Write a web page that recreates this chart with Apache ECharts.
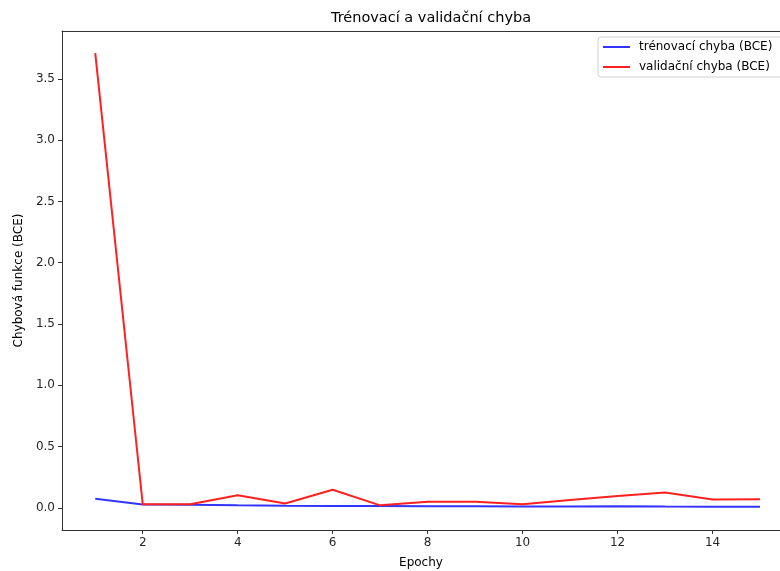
<!DOCTYPE html>
<html>
<head>
<meta charset="utf-8">
<script src="https://cdn.jsdelivr.net/npm/echarts@6/dist/echarts.min.js"></script>
<style>
  html, body { margin: 0; padding: 0; background: #fff; }
  #chart { width: 780px; height: 571px; }
</style>
</head>
<body>
<div id="chart"></div>
<script>
  var epochs = [1, 2, 3, 4, 5, 6, 7, 8, 9, 10, 11, 12, 13, 14, 15];
  var trainLoss = [0.074, 0.028, 0.025, 0.021, 0.018, 0.016, 0.015, 0.014, 0.013, 0.012, 0.012, 0.013, 0.011, 0.010, 0.009];
  var valLoss = [3.71, 0.030, 0.030, 0.104, 0.036, 0.148, 0.021, 0.050, 0.050, 0.030, 0.065, 0.098, 0.126, 0.068, 0.070];
  var xTicks = [2, 4, 6, 8, 10, 12, 14];
  var yTicks = [0, 0.5, 1.0, 1.5, 2.0, 2.5, 3.0, 3.5];

  function pairs(xs, ys) {
    var out = [];
    for (var i = 0; i < xs.length; i++) {
      out.push([xs[i], ys[i]]);
    }
    return out;
  }

  var font = 'DejaVu Sans';
  var spine = '#333';
  var chart = echarts.init(document.getElementById('chart'));
  chart.setOption({
    animation: false,
    title: {
      text: 'Trénovací a validační chyba',
      left: 426,
      textAlign: 'center',
      top: 6,
      textStyle: { fontFamily: font, fontSize: 14.5, fontWeight: 'normal', color: '#000' }
    },
    legend: {
      orient: 'vertical',
      left: 598,
      top: 37,
      icon: 'rect',
      itemWidth: 27,
      itemHeight: 2,
      itemGap: 8,
      padding: [4, 14, 4, 5],
      borderColor: '#d0d0d0',
      borderWidth: 1,
      borderRadius: 3,
      textStyle: { fontFamily: font, fontSize: 12, color: '#000', padding: [0, 0, 0, 4] },
      data: ['trénovací chyba (BCE)', 'validační chyba (BCE)']
    },
    grid: {
      left: 62,
      top: 31,
      right: 0,
      bottom: 41,
      outerBoundsMode: 'none',
      containLabel: false,
      show: false
    },
    xAxis: [
      {
        type: 'value',
        min: 0.3,
        max: 15.42,
        name: 'Epochy',
        nameLocation: 'middle',
        nameGap: 27,
        nameTextStyle: { fontFamily: font, fontSize: 12, color: '#000' },
        splitLine: { show: false },
        axisLine: { show: true, onZero: false, lineStyle: { color: spine, width: 1 } },
        axisTick: { show: true, customValues: xTicks, length: 4, lineStyle: { color: spine } },
        axisLabel: {
          customValues: xTicks,
          fontFamily: font, fontSize: 12, color: '#262626', margin: 7
        }
      },
      {
        type: 'value',
        position: 'top',
        min: 0.3,
        max: 15.42,
        splitLine: { show: false },
        axisLine: { show: true, onZero: false, lineStyle: { color: spine, width: 1 } },
        axisTick: { show: false },
        axisLabel: { show: false }
      }
    ],
    yAxis: {
      type: 'value',
      min: -0.18,
      max: 3.89,
      name: 'Chybová funkce (BCE)',
      nameLocation: 'middle',
      nameGap: 36,
      nameTextStyle: { fontFamily: font, fontSize: 12, color: '#000' },
      splitLine: { show: false },
      axisLine: { show: true, onZero: false, lineStyle: { color: spine, width: 1 } },
      axisTick: { show: true, customValues: yTicks, length: 4, lineStyle: { color: spine } },
      axisLabel: {
        customValues: yTicks,
        formatter: function (v) { return v.toFixed(1); },
        fontFamily: font, fontSize: 12, color: '#262626', margin: 7
      }
    },
    series: [
      {
        name: 'trénovací chyba (BCE)',
        type: 'line',
        symbol: 'none',
        color: '#3333ff',
        lineStyle: { width: 2, color: '#3333ff' },
        data: pairs(epochs, trainLoss)
      },
      {
        name: 'validační chyba (BCE)',
        type: 'line',
        symbol: 'none',
        color: '#ff2020',
        lineStyle: { width: 2, color: '#ff2020' },
        data: pairs(epochs, valLoss)
      }
    ]
  });
</script>
</body>
</html>
